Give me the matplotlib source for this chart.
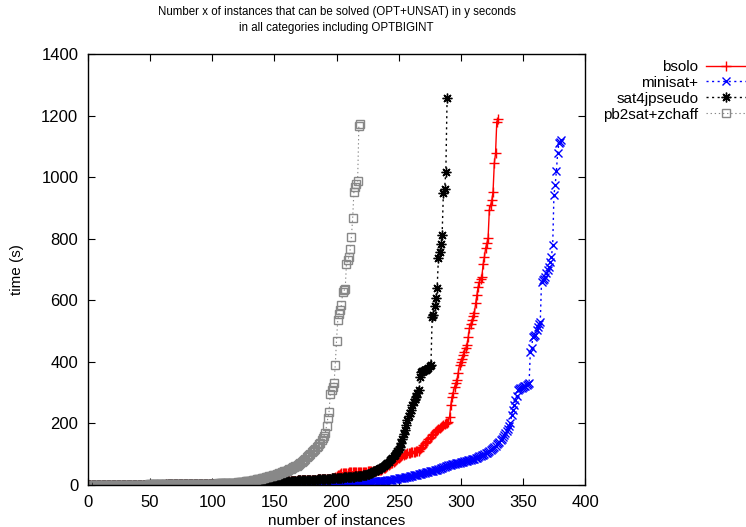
import matplotlib
matplotlib.use("Agg")
import matplotlib.pyplot as plt

plt.rcParams['font.family'] = ['Liberation Sans', 'DejaVu Sans']

title_lines = ["Number x of instances that can be solved (OPT+UNSAT) in y seconds",
               "in all categories including OPTBIGINT"]
xlabel = "number of instances"
ylabel = "time (s)"
series_names = ["bsolo", "minisat+", "sat4jpseudo", "pb2sat+zchaff"]

bsolo = [
    0.0,0.0,0.0,0.0,0.0,0.0,0.0,0.0,0.1,0.1, 0.1,0.1,0.1,0.1,0.1,0.2,0.2,0.2,0.2,0.2,
    0.2,0.3,0.3,0.3,0.3,0.3,0.4,0.4,0.4,0.4, 0.5,0.5,0.5,0.5,0.6,0.6,0.6,0.7,0.7,0.7,
    0.8,0.8,0.8,0.9,0.9,0.9,1.0,1.0,1.1,1.1, 1.1,1.2,1.2,1.3,1.3,1.3,1.4,1.4,1.5,1.5,
    1.6,1.6,1.7,1.7,1.8,1.8,1.9,1.9,2.0,2.0, 2.1,2.1,2.2,2.2,2.3,2.3,2.4,2.4,2.5,2.5,
    2.6,2.6,2.7,2.7,2.8,2.8,2.9,2.9,3.0,3.0, 3.1,3.1,3.2,3.2,3.3,3.3,3.4,3.4,3.5,3.5,
    3.6,3.6,3.7,3.7,3.8,3.8,3.9,3.9,4.0,4.0, 4.1,4.1,4.2,4.2,4.3,4.3,4.4,4.4,4.5,4.5,
    4.6,4.7,4.8,4.9,5.0,5.2,5.4,5.6,5.8,6.0, 6.3,6.6,6.9,7.2,7.5,7.8,8.1,8.4,8.7,9.0,
    9.2,9.4,9.6,9.8,10.0,10.2,10.4,10.6,10.8,11.0, 11.2,11.4,11.6,11.8,12.0,12.2,12.4,12.6,12.8,13.0,
    13.2,13.4,13.6,13.8,14.0,14.2,14.4,14.6,14.8,15.0, 15.2,15.4,15.6,15.8,16.0,16.2,16.4,16.6,16.8,17.0,
    17.2,17.4,17.6,17.8,18.0,18.3,18.6,18.9,19.2,19.5, 19.8,20.1,20.4,20.7,21.0,21.5,22.5,24.0,26.0,28.0,
    31,34,36,37.5,38.5,39.0,39.5,40.0,40.5,41.0, 41.2,41.4,41.6,41.8,42.0,42.2,42.4,42.6,42.8,43.0,
    43.2,43.4,43.6,43.8,44.0,44.3,44.6,45.0,45.5,46.0, 46.5,47,47.5,48,49,50,52,54,56,58,
    61,64,67,70,73,76,79,82,85,88, 91,94,96,98,100,102,103,104,105,106,
    106,107,108,109,110,112,116,120,125,131, 136,140,144,148,152,157,162,167,171,175,
    179,182,185,188,191,194,197,200,203,206, 222,260,287,300,319,330,341,365,390,400,
    410,422,433,444,455,480,509,522,535,548, 560,590,617,644,660,670,677,717,740,769,
    785,801,893,909,925,953,1045,1077,1180,1189,
]

minisat = [
    0.0,0.0,0.0,0.0,0.0,0.1,0.1,0.1,0.1,0.1, 0.1,0.1,0.1,0.1,0.1,0.2,0.2,0.2,0.2,0.2,
    0.2,0.2,0.2,0.3,0.3,0.3,0.3,0.3,0.3,0.4, 0.4,0.4,0.4,0.4,0.5,0.5,0.5,0.5,0.5,0.6,
    0.6,0.6,0.6,0.7,0.7,0.7,0.7,0.8,0.8,0.8, 0.8,0.9,0.9,0.9,1.0,1.0,1.0,1.1,1.1,1.1,
    1.2,1.2,1.2,1.3,1.3,1.3,1.4,1.4,1.4,1.5, 1.5,1.5,1.6,1.6,1.6,1.7,1.7,1.7,1.8,1.8,
    1.8,1.9,1.9,1.9,2.0,2.0,2.0,2.1,2.1,2.1, 2.2,2.2,2.2,2.3,2.3,2.3,2.4,2.4,2.4,2.5,
    2.5,2.5,2.6,2.6,2.6,2.7,2.7,2.7,2.8,2.8, 2.8,2.9,2.9,2.9,3.0,3.0,3.0,3.1,3.1,3.1,
    3.2,3.2,3.2,3.3,3.3,3.3,3.4,3.4,3.4,3.5, 3.5,3.5,3.6,3.6,3.6,3.7,3.7,3.7,3.8,3.8,
    3.8,3.9,3.9,3.9,4.0,4.0,4.0,4.1,4.1,4.1, 4.2,4.2,4.2,4.3,4.3,4.3,4.4,4.4,4.4,4.5,
    4.5,4.5,4.6,4.6,4.6,4.7,4.7,4.7,4.8,4.8, 4.8,4.9,4.9,4.9,5.0,5.0,5.0,5.1,5.1,5.1,
    5.2,5.2,5.2,5.3,5.3,5.3,5.4,5.4,5.4,5.5, 5.5,5.6,5.6,5.7,5.7,5.8,5.8,5.9,5.9,6.0,
    6.1,6.2,6.3,6.4,6.5,6.6,6.7,6.8,6.9,7.0, 7.2,7.4,7.6,7.8,8.0,8.2,8.4,8.6,8.8,9.0,
    9.2,9.4,9.6,9.8,10.0,10.3,10.6,10.9,11.2,11.5, 11.8,12.1,12.4,12.7,13.0,13.3,13.6,13.9,14.2,14.5,
    15,15.7,16.4,17.1,17.8,18.5,19.2,19.9,20.6,21.3, 22,22.7,23.4,24.1,24.8,25.5,26.2,27,28,29,
    30,31,32,33,34,35,36,37,38,39, 40,41,42,43,44,45,46,47,48,49,
    50,51.5,53,54.5,56,57.5,59,60.5,62,63.5, 65,66,67,68,69,70,71,72,73,74,
    75,76,77,78,79,80,81,82,83,84, 85,87,89,91,93,95,97,99,101,103,
    105,108,111,114,117,120,124,128,132,136, 140,145,150,156,162,168,175,183,192,202,
    227,244,260,276,290,308,311,314,316,319, 321,323,325,328,331,433,444,482,485,487,
    503,514,522,530,660,666,670,677,688,700, 709,725,742,779,942,974,1021,1080,1110,1115,1120,
]

sat4j = [
    0.0,0.0,0.0,0.0,0.0,0.0,0.0,0.0,0.1,0.1, 0.1,0.1,0.1,0.1,0.1,0.2,0.2,0.2,0.2,0.2,
    0.2,0.3,0.3,0.3,0.3,0.3,0.4,0.4,0.4,0.4, 0.5,0.5,0.5,0.5,0.6,0.6,0.6,0.7,0.7,0.7,
    0.8,0.8,0.8,0.9,0.9,0.9,1.0,1.0,1.1,1.1, 1.1,1.2,1.2,1.3,1.3,1.3,1.4,1.4,1.5,1.5,
    1.6,1.6,1.7,1.7,1.8,1.8,1.9,1.9,2.0,2.0, 2.1,2.1,2.2,2.2,2.3,2.3,2.4,2.4,2.5,2.5,
    2.6,2.6,2.7,2.7,2.8,2.8,2.9,2.9,3.0,3.0, 3.1,3.1,3.2,3.2,3.3,3.3,3.4,3.4,3.5,3.5,
    3.6,3.6,3.7,3.7,3.8,3.8,3.9,3.9,4.0,4.0, 4.1,4.1,4.2,4.2,4.3,4.3,4.4,4.4,4.5,4.5,
    4.6,4.7,4.8,4.9,5.0,5.2,5.4,5.6,5.8,6.0, 6.3,6.6,6.9,7.2,7.5,7.8,8.1,8.4,8.7,9.0,
    9.2,9.4,9.6,9.8,10.0,10.2,10.4,10.6,10.8,11.0, 11.2,11.4,11.6,11.8,12.0,12.2,12.4,12.6,12.8,13.0,
    13.2,13.4,13.6,13.8,14.0,14.2,14.4,14.6,14.8,15.0, 15.2,15.4,15.6,15.8,16.0,16.2,16.4,16.6,16.8,17.0,
    17.2,17.4,17.6,17.8,18.0,18.3,18.6,18.9,19.2,19.5, 19.8,20.1,20.4,20.7,21.0,21.3,21.6,21.9,22.2,22.5,
    22.8,23.1,23.4,23.7,24.0,24.4,24.8,25.2,25.6,26.0, 26.4,26.8,27.2,27.6,28.0,28.5,29.0,29.5,30.0,30.5,
    31,32,33,34,35,36,38,40,42,44, 46,48,50,52,54,56,58,61,64,68,
    72,76,80,84,88,93,98,104,110,116, 125,135,150,165,180,195,210,225,235,244,
    260,271,280,287,298,308,350,368,370,371, 373,375,377,379,385,390,547,552,580,606,
    639,736,758,782,812,947,963,1018,1256,
]

pb2sat = [
    0.1,0.1,0.1,0.2,0.2,0.2,0.3,0.3,0.3,0.4, 0.4,0.4,0.5,0.5,0.5,0.6,0.6,0.6,0.7,0.7,
    0.7,0.8,0.8,0.8,0.9,0.9,0.9,1.0,1.0,1.0, 1.1,1.1,1.1,1.2,1.2,1.2,1.3,1.3,1.3,1.4,
    1.4,1.4,1.5,1.5,1.5,1.6,1.6,1.6,1.7,1.7, 1.7,1.8,1.8,1.8,1.9,1.9,1.9,2.0,2.0,2.0,
    2.1,2.1,2.2,2.2,2.3,2.3,2.4,2.4,2.5,2.5, 2.6,2.6,2.7,2.7,2.8,2.8,2.9,2.9,3.0,3.0,
    3.1,3.1,3.2,3.2,3.3,3.3,3.4,3.4,3.5,3.5, 3.6,3.6,3.7,3.7,3.8,3.8,3.9,3.9,4.0,4.0,
    4.2,4.4,4.6,4.8,5.0,5.2,5.4,5.6,5.8,6.0, 6.2,6.4,6.6,6.8,7.0,7.2,7.4,7.6,7.8,8.0,
    8.5,9,9.5,10,10.5,11,11.5,12,12.5,13, 13.5,14,15,16,17,18,19,20,21,22,
    23,24,25,26,27,28,29,30,31,32, 33.5,35,36.5,38,39.5,41,42.5,44,45.5,47,
    49,51,53,55,57,59,61,63,66,69, 72,75,78,82,86,90,94,98,102,106,
    110,114,118,122,126,132,138,145,152,160, 170,192,217,238,296,308,319,330,390,469,
    536,557,570,585,628,632,636,718,730,741, 765,806,866,953,969,978,987,1165,1172,
]

x_ticks = [0, 50, 100, 150, 200, 250, 300, 350, 400]
y_ticks = [0, 200, 400, 600, 800, 1000, 1200, 1400]

W, H = 746, 527
fig = plt.figure(figsize=(W / 100, H / 100), dpi=100)
ax = fig.add_axes([88 / W, 1 - 485 / H, (585 - 88) / W, (485 - 54) / H])

styles = [
    dict(color='#ff0000', linestyle='-', marker='+', markersize=6.5, linewidth=1.0, mew=1.0),
    dict(color='#0000ff', linestyle=(0, (1.5, 2.5)), marker='x', markersize=6, linewidth=1.0, mew=1.0),
    dict(color='#000000', linestyle=(0, (1.5, 2.5)), marker=(8, 2, 0), markersize=7, linewidth=1.0, mew=1.0),
    dict(color='#888888', linestyle=(0, (1.2, 2.5)), marker='s', markersize=5.5, linewidth=0.8, mew=1.0,
         markerfacecolor='none'),
]
for name, data, st in zip(series_names, [bsolo, minisat, sat4j, pb2sat], styles):
    xs = list(range(1, len(data) + 1))
    ax.plot(xs, data, label=name, **st)

ax.set_xlim(0, 400)
ax.set_ylim(0, 1400)
ax.set_xticks(x_ticks)
ax.set_yticks(y_ticks)
ax.tick_params(direction='in', length=5, width=0.8, top=True, right=True, labelsize=12,
               pad=7, colors='black')
for sp in ax.spines.values():
    sp.set_linewidth(1.0)

ax.set_xlabel(xlabel, fontsize=11, labelpad=3)
ax.set_ylabel(ylabel, fontsize=11, labelpad=12)
fig.text(336.5 / W, 1 - 20 / H, "\n".join(title_lines), ha='center', va='center',
         fontsize=8.3, linespacing=1.45)

leg = fig.legend(loc='upper right', bbox_to_anchor=(1.0, 1 - 60 / H), markerfirst=False,
                 frameon=False, fontsize=11, handlelength=2.62, handletextpad=0.5,
                 borderpad=0, borderaxespad=0, labelspacing=0.12)

fig.savefig("out.png", dpi=100)
